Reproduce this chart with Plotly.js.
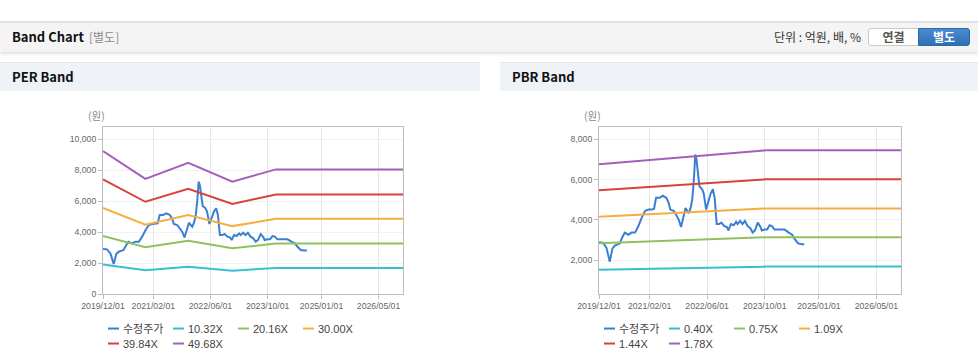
<!DOCTYPE html>
<html>
<head>
<meta charset="utf-8">
<script src="https://cdn.plot.ly/plotly-3.0.1.min.js"></script>
<style>
  body{margin:0;width:978px;height:361px;overflow:hidden;background:#fff;position:relative;
       font-family:"Noto Sans CJK KR","Noto Sans",sans-serif;}
  .topbar{position:absolute;left:0;top:21px;width:978px;height:29px;background:#f4f4f4;
          border-top:2px solid #e2e2e2;box-shadow:0 2px 3px rgba(0,0,0,0.13);}
  .topbar .title{position:absolute;left:12px;top:4px;font-size:13px;font-weight:bold;color:#111;line-height:20px;}
  .topbar .sub{position:absolute;left:89px;top:4px;font-size:12px;color:#8a8a8a;line-height:20px;}
  .topbar .unit{position:absolute;right:117px;top:4px;font-size:12px;color:#333;line-height:20px;}
  .btns{position:absolute;left:868px;top:5px;width:101px;height:18px;}
  .btn{position:absolute;top:0;height:16px;width:49px;font-size:12px;font-weight:bold;text-align:center;line-height:16px;}
  .b1{left:0;background:#fff;border:1px solid #c9c9c9;border-radius:3px 0 0 3px;color:#555;}
  .b2{left:50px;width:50px;background:linear-gradient(#4a8bd0,#2f6fb4);border:1px solid #2c67a8;border-radius:0 3px 3px 0;color:#fff;}
  .phead{position:absolute;top:62px;height:28px;background:#eff2f7;border-top:1px solid #e1e5ec;}
  .phead span{position:absolute;left:12px;top:4px;font-size:13px;font-weight:bold;color:#111;line-height:20px;}
  #per{position:absolute;left:0;top:91px;width:480px;height:270px;}
  #pbr{position:absolute;left:500px;top:91px;width:478px;height:270px;}
</style>
</head>
<body>
<div class="topbar">
  <div class="title">Band Chart</div>
  <div class="sub">[별도]</div>
  <div class="unit">단위 : 억원, 배, %</div>
  <div class="btns"><div class="btn b1">연결</div><div class="btn b2">별도</div></div>
</div>
<div class="phead" style="left:0;width:480px;"><span>PER Band</span></div>
<div class="phead" style="left:500px;width:478px;"><span>PBR Band</span></div>
<div id="per"></div>
<div id="pbr"></div>
<script>
// ---- data ----
var priceDates = ['2019-12-01','2020-01-04','2020-02-02','2020-03-01','2020-03-23','2020-04-12','2020-05-10','2020-05-24','2020-06-16','2020-07-06',
  '2020-08-04','2020-09-02','2020-10-01','2020-10-29','2020-11-27','2020-12-25','2021-01-23','2021-02-21','2021-03-10','2021-03-27',
  '2021-04-25','2021-05-23','2021-06-21','2021-07-10','2021-07-25','2021-08-23','2021-09-15','2021-10-04','2021-10-24','2021-11-10',
  '2021-12-01','2021-12-15','2021-12-29','2022-01-13','2022-01-27','2022-02-10','2022-02-21','2022-03-03','2022-03-14','2022-03-28',
  '2022-04-20','2022-05-04','2022-05-24','2022-06-08','2022-07-01','2022-07-20','2022-08-04','2022-08-21','2022-09-10','2022-09-30',
  '2022-10-23','2022-11-15','2022-11-29','2022-12-19','2023-01-11','2023-02-01','2023-02-14','2023-03-07','2023-03-27','2023-04-16',
  '2023-05-09','2023-06-01','2023-06-21','2023-07-10','2023-08-03','2023-08-26','2023-09-06','2023-09-29','2023-10-21','2023-11-11',
  '2023-12-01','2023-12-23','2024-02-05','2024-03-17','2024-04-21','2024-05-19','2024-06-11','2024-07-09','2024-08-07','2024-08-30'];
var priceValues = [2900,2880,2620,1935,2580,2730,2800,2840,3160,3375,
  3270,3375,3375,3700,4130,4450,4515,4515,4560,5100,
  5100,5200,5100,4880,4515,4450,4235,4020,3655,4020,
  4600,4450,4340,4600,5030,6060,7245,7030,6280,5680,
  5525,5310,4515,4880,5310,5525,5100,3800,3800,3870,
  3700,3655,3480,3800,3740,3910,3800,3955,3800,3955,
  3700,3590,3375,3480,3870,3655,3480,3525,3525,3740,
  3700,3525,3525,3525,3375,3270,3050,2840,2800,2800];

var perBandDates = ['2019-12-01','2020-11-25','2021-11-25','2022-12-05','2023-12-10','2026-12-31'];
var perBandNames = ['10.32X','20.16X','30.00X','39.84X','49.68X'];
var per1032 = [1910,1540,1755,1505,1680,1680];
var per2016 = [3740,3010,3430,2950,3250,3250];
var per3000 = [5560,4470,5100,4380,4850,4850];
var per3984 = [7390,5950,6790,5810,6420,6420];
var per4968 = [9220,7430,8460,7250,8040,8040];

var pbrBandDates = ['2019-12-01','2021-06-01','2022-09-01','2023-10-15','2026-12-31'];
var pbrBandNames = ['0.40X','0.75X','1.09X','1.44X','1.78X'];
var pbr040 = [1530,1580,1630,1690,1690];
var pbr075 = [2850,2960,3055,3145,3145];
var pbr109 = [4160,4305,4440,4570,4570];
var pbr144 = [5470,5690,5865,6020,6020];
var pbr178 = [6760,7030,7250,7455,7455];

var priceName = '수정주가';
var xTickVals = ['2019-12-01','2021-02-01','2022-06-01','2023-10-01','2025-01-01','2026-05-01'];
var xTickText = ['2019/12/01','2021/02/01','2022/06/01','2023/10/01','2025/01/01','2026/05/01'];
var perYTicks = [0,2000,4000,6000,8000,10000];
var pbrYTicks = [2000,4000,6000,8000];
var unitLabel = '(원)';

// ---- styles ----
var colors = ['#3a7fd4','#36bfcf','#8fc15e','#f5ae3d','#d8423a','#a460b8'];

function buildTraces(bandDates, bandNames, bands){
  var tr = [{x: priceDates, y: priceValues, name: priceName, type:'scatter', mode:'lines',
             line:{color:colors[0], width:2}}];
  for (var i=0;i<bands.length;i++){
    tr.push({x: bandDates, y: bands[i], name: bandNames[i], type:'scatter', mode:'lines',
             line:{color:colors[i+1], width:2}});
  }
  return tr;
}

function buildLayout(w, ml, mr, yRange, yTicks){
  var tickFont = {family:'"Liberation Sans", Arial, sans-serif', size:8.7, color:'#666'};
  return {
    width: w, height: 270,
    margin:{l:ml, r:mr, t:35.7, b:67, pad:0, autoexpand:false},
    paper_bgcolor:'#fff', plot_bgcolor:'#fff',
    showlegend:true,
    xaxis:{type:'date', range:['2019-12-01','2026-11-25'], tickmode:'array', tickvals:xTickVals, ticktext:xTickText,
           showgrid:true, gridcolor:'#e6e6e6', showline:true, linecolor:'#bdbdbd', mirror:true,
           ticks:'outside', ticklen:4, tickcolor:'#bdbdbd', tickfont:tickFont, zeroline:false, fixedrange:true},
    yaxis:{range:yRange, tickmode:'array', tickvals:yTicks, tickformat:',', showgrid:true, gridcolor:'#f1f1f1',
           showline:true, linecolor:'#bdbdbd', mirror:true, ticks:'outside', ticklen:4, tickcolor:'#bdbdbd',
           tickfont:tickFont, zeroline:false, fixedrange:true},
    legend:{orientation:'h', x:0, xanchor:'left', y:-0.12, yanchor:'top', entrywidth:20, entrywidthmode:'pixels',
            font:{family:'"Liberation Sans", "Noto Sans CJK KR", sans-serif', size:11, color:'#444'},
            bgcolor:'rgba(0,0,0,0)', borderwidth:0, traceorder:'normal'},
    annotations:[{xref:'paper', yref:'paper', x:0, y:1, xanchor:'right', yanchor:'bottom', xshift:4, yshift:2,
                  text:unitLabel, showarrow:false, font:{family:'"Noto Sans CJK KR", sans-serif', size:10.5, color:'#888'}}]
  };
}

function parseT(el){
  var m = /translate\(\s*([-\d.]+)[ ,]+([-\d.]+)\s*\)/.exec(el.getAttribute('transform')||'');
  return m ? [parseFloat(m[1]), parseFloat(m[2])] : [0,0];
}
function tweakLegend(gd){
  var items = gd.querySelectorAll('.legend .traces');
  var ys = [];
  items.forEach(function(tr){
    var p = tr.querySelector('.legendlines path');
    if(p) p.setAttribute('d','M5,0h11');
    var t = tr.querySelector('text.legendtext');
    if(t){ t.setAttribute('x', 20); t.querySelectorAll('tspan.line').forEach(function(s){ s.setAttribute('x',20); }); }
    if(!tr.hasAttribute('data-oy')) tr.setAttribute('data-oy', parseT(tr)[1]);
    var oy = parseFloat(tr.getAttribute('data-oy'));
    if(ys.indexOf(oy) < 0) ys.push(oy);
  });
  ys.sort(function(a,b){return a-b;});
  items.forEach(function(tr){
    var oy = parseFloat(tr.getAttribute('data-oy'));
    var row = ys.indexOf(oy);
    var xy = parseT(tr);
    tr.setAttribute('transform','translate(' + xy[0] + ',' + (ys[0] + row*15) + ')');
  });
}

var cfg = {displayModeBar:false, responsive:false};
var perDiv = document.getElementById('per');
var pbrDiv = document.getElementById('pbr');
Plotly.newPlot(perDiv, buildTraces(perBandDates, perBandNames, [per1032,per2016,per3000,per3984,per4968]),
  buildLayout(480, 102.7, 77.3, [0,10774], perYTicks), cfg).then(function(){
    tweakLegend(perDiv); perDiv.on('plotly_afterplot', function(){ tweakLegend(perDiv); });
  });
Plotly.newPlot(pbrDiv, buildTraces(pbrBandDates, pbrBandNames, [pbr040,pbr075,pbr109,pbr144,pbr178]),
  buildLayout(478, 99, 77, [332,8609], pbrYTicks), cfg).then(function(){
    tweakLegend(pbrDiv); pbrDiv.on('plotly_afterplot', function(){ tweakLegend(pbrDiv); });
  });
</script>
</body>
</html>
